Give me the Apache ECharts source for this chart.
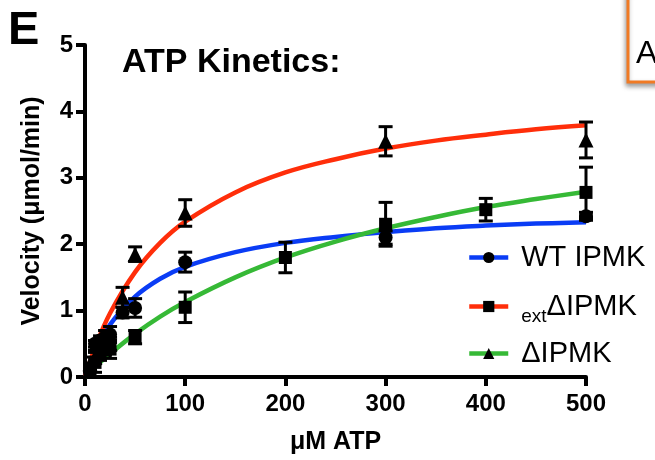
<!DOCTYPE html>
<html>
<head>
<meta charset="UTF-8">
<title>ATP Kinetics</title>
<style>
  html, body { margin: 0; padding: 0; background: #fff; }
  #main { width: 655px; height: 460px; }
</style>
</head>
<body>
<div id="main"></div>
<script src="https://cdn.jsdelivr.net/npm/echarts@6/dist/echarts.min.js"></script>
<script>
// measured points (x = µM ATP, y = velocity, err = error bar half height)
var wtX = [10, 15, 20, 25, 37.5, 50, 100, 300, 500];
var wtY = [0.5, 0.55, 0.6, 0.64, 0.97, 1.04, 1.73, 2.1, 2.42];
var wtErr = [0.05, 0.07, 0.1, 0.12, 0.08, 0.14, 0.15, 0.1, 0.06];

var sqX = [5, 10, 15, 20, 25, 50, 100, 200, 300, 400, 500];
var sqY = [0.1, 0.22, 0.35, 0.45, 0.42, 0.6, 1.05, 1.8, 2.3, 2.52, 2.78];
var sqErr = [0.1, 0.15, 0.1, 0.12, 0.14, 0.1, 0.23, 0.23, 0.33, 0.17, 0.38];

var triX = [5, 10, 20, 25, 37.5, 50, 100, 300, 500];
var triY = [0.2, 0.3, 0.45, 0.5, 1.2, 1.85, 2.47, 3.55, 3.57];
var triErr = [0.1, 0.1, 0.1, 0.1, 0.15, 0.11, 0.2, 0.22, 0.27];

// fitted curves
var curveX = [0, 10, 25, 50, 75, 100, 150, 200, 250, 300, 350, 400, 450, 500];
var blueCurve = [0, 0.39, 0.79, 1.21, 1.48, 1.66, 1.88, 2.02, 2.11, 2.18, 2.24, 2.28, 2.31, 2.33];
var redCurve = [0, 0.44, 0.96, 1.58, 2.02, 2.34, 2.78, 3.08, 3.28, 3.44, 3.56, 3.65, 3.73, 3.79];
var greenCurve = [0, 0.15, 0.35, 0.65, 0.91, 1.13, 1.5, 1.8, 2.04, 2.24, 2.41, 2.56, 2.68, 2.79];

var seriesNames = ['WT IPMK', 'extΔIPMK', 'ΔIPMK'];
var xTicks = [0, 100, 200, 300, 400, 500];
var yTicks = [0, 1, 2, 3, 4, 5];

var FONT = "'Liberation Sans', Arial, Helvetica, sans-serif";

function pairs(xs, ys) {
  return xs.map(function (x, i) { return [x, ys[i]]; });
}
function triples(xs, ys, es) {
  return xs.map(function (x, i) { return [x, ys[i], es[i]]; });
}

// error bars drawn through the axis scales
function errorBars(data) {
  return {
    type: 'custom',
    z: 3,
    silent: true,
    data: data,
    renderItem: function (params, api) {
      var x = api.value(0), y = api.value(1), e = api.value(2);
      var top = api.coord([x, y + e]);
      var bot = api.coord([x, y - e]);
      var cap = 7;
      var st = { stroke: '#000', lineWidth: 3 };
      return {
        type: 'group',
        children: [
          { type: 'line', shape: { x1: top[0], y1: top[1], x2: bot[0], y2: bot[1] }, style: st },
          { type: 'line', shape: { x1: top[0] - cap, y1: top[1], x2: top[0] + cap, y2: top[1] }, style: st },
          { type: 'line', shape: { x1: bot[0] - cap, y1: bot[1], x2: bot[0] + cap, y2: bot[1] }, style: st }
        ]
      };
    }
  };
}

function curve(name, ys, color, symbol) {
  return {
    name: name,
    type: 'line',
    smooth: 0.4,
    showSymbol: false,
    symbol: symbol,
    symbolSize: 13,
    z: 2,
    silent: true,
    itemStyle: { color: '#000', opacity: 1 },
    lineStyle: { color: color, width: 4.5 },
    data: pairs(curveX, ys)
  };
}

function points(xs, ys, symbol, size) {
  return {
    type: 'scatter',
    symbol: symbol,
    symbolSize: size,
    z: 4,
    silent: true,
    itemStyle: { color: '#000', opacity: 1 },
    data: pairs(xs, ys)
  };
}

function legendAt(name, top) {
  return {
    data: [name],
    orient: 'vertical',
    left: 467,
    top: top,
    padding: 0,
    itemWidth: 39,
    itemHeight: 14,
    selectedMode: false,
    lineStyle: { width: 4.5 },
    formatter: function (n) {
      if (n.indexOf('ext') === 0) return '{sub|ext}{big|' + n.slice(3) + '}';
      return '{main|' + n + '}';
    },
    textStyle: {
      color: '#000',
      fontFamily: FONT,
      rich: {
        main: { fontSize: 29, lineHeight: 30, padding: [0, 0, 0, 8], color: '#000', fontFamily: FONT },
        sub: { fontSize: 19, lineHeight: 19, verticalAlign: 'bottom', padding: [0, 0, 0, 8], color: '#000', fontFamily: FONT },
        big: { fontSize: 29, lineHeight: 40, color: '#000', fontFamily: FONT }
      }
    }
  };
}

var myChart = echarts.init(document.getElementById('main'), null, { renderer: 'canvas' });

var option = {
  backgroundColor: '#fff',
  animation: false,
  grid: { left: 85, right: 69, top: 45, bottom: 83 },
  xAxis: {
    type: 'value',
    min: xTicks[0],
    max: xTicks[xTicks.length - 1],
    interval: 100,
    name: 'μM ATP',
    nameLocation: 'middle',
    nameGap: 53,
    nameTextStyle: { color: '#000', fontSize: 25, fontWeight: 'bold', fontFamily: FONT },
    axisLine: { lineStyle: { color: '#000', width: 4 } },
    axisTick: { show: true, length: 9, lineStyle: { color: '#000', width: 4 } },
    axisLabel: { color: '#000', fontSize: 24, fontWeight: 'bold', fontFamily: FONT, margin: 15 },
    splitLine: { show: false }
  },
  yAxis: {
    type: 'value',
    min: yTicks[0],
    max: yTicks[yTicks.length - 1],
    interval: 1,
    name: 'Velocity (μmol/min)',
    nameLocation: 'middle',
    nameGap: 40,
    nameTextStyle: { color: '#000', fontSize: 25, fontWeight: 'bold', fontFamily: FONT },
    axisLine: { show: true, lineStyle: { color: '#000', width: 4 } },
    axisTick: { show: true, length: 9, lineStyle: { color: '#000', width: 4 } },
    axisLabel: { color: '#000', fontSize: 24, fontWeight: 'bold', fontFamily: FONT, margin: 12 },
    splitLine: { show: false }
  },
  legend: [
    legendAt(seriesNames[0], 243),
    legendAt(seriesNames[1], 292),
    legendAt(seriesNames[2], 339)
  ],
  graphic: [
    {
      type: 'text', left: 8, top: 8,
      style: { text: 'E', font: 'bold 47px ' + FONT, fill: '#000' }
    },
    {
      type: 'text', left: 122, top: 46,
      style: { text: 'ATP Kinetics:', font: 'bold 34px ' + FONT, fill: '#000' }
    },
    {
      type: 'rect',
      shape: { x: 628, y: -10, width: 60, height: 92 },
      style: {
        fill: '#fff', stroke: '#f07a24', lineWidth: 3,
        shadowBlur: 5, shadowColor: 'rgba(0,0,0,0.35)', shadowOffsetX: -1, shadowOffsetY: 3
      }
    },
    {
      type: 'text', left: 636, top: 38,
      style: { text: 'A', font: '32px ' + FONT, fill: '#000' }
    }
  ],
  series: [
    curve(seriesNames[0], blueCurve, '#0a3cf5', 'circle'),
    curve(seriesNames[1], redCurve, '#ff2e0a', 'rect'),
    curve(seriesNames[2], greenCurve, '#36b936', 'triangle'),
    errorBars(triples(wtX, wtY, wtErr)),
    errorBars(triples(sqX, sqY, sqErr)),
    errorBars(triples(triX, triY, triErr)),
    points(wtX, wtY, 'circle', 14),
    points(sqX, sqY, 'rect', 13),
    points(triX, triY, 'triangle', 15)
  ]
};

if (option && typeof option === 'object') {
  myChart.setOption(option, true);
}
</script>
</body>
</html>
